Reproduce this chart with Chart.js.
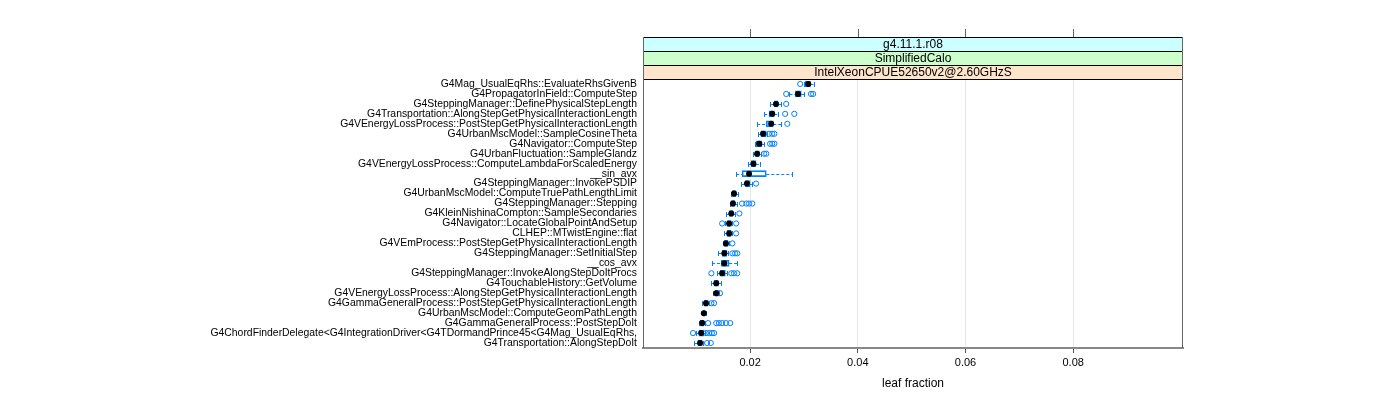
<!DOCTYPE html>
<html>
<head>
<meta charset="utf-8">
<script src="https://cdn.jsdelivr.net/npm/chart.js@4/dist/chart.umd.min.js"></script>
<style>
  html, body { margin: 0; padding: 0; background: #ffffff; }
  #wrap { width: 1400px; height: 400px; }
</style>
</head>
<body>
<div id="wrap"><canvas id="plot" width="1400" height="400"></canvas></div>
<script>
//* Input data //*

var categories = [
  'G4Mag_UsualEqRhs::EvaluateRhsGivenB',
  'G4PropagatorInField::ComputeStep',
  'G4SteppingManager::DefinePhysicalStepLength',
  'G4Transportation::AlongStepGetPhysicalInteractionLength',
  'G4VEnergyLossProcess::PostStepGetPhysicalInteractionLength',
  'G4UrbanMscModel::SampleCosineTheta',
  'G4Navigator::ComputeStep',
  'G4UrbanFluctuation::SampleGlandz',
  'G4VEnergyLossProcess::ComputeLambdaForScaledEnergy',
  '__sin_avx',
  'G4SteppingManager::InvokePSDIP',
  'G4UrbanMscModel::ComputeTruePathLengthLimit',
  'G4SteppingManager::Stepping',
  'G4KleinNishinaCompton::SampleSecondaries',
  'G4Navigator::LocateGlobalPointAndSetup',
  'CLHEP::MTwistEngine::flat',
  'G4VEmProcess::PostStepGetPhysicalInteractionLength',
  'G4SteppingManager::SetInitialStep',
  '__cos_avx',
  'G4SteppingManager::InvokeAlongStepDoItProcs',
  'G4TouchableHistory::GetVolume',
  'G4VEnergyLossProcess::AlongStepGetPhysicalInteractionLength',
  'G4GammaGeneralProcess::PostStepGetPhysicalInteractionLength',
  'G4UrbanMscModel::ComputeGeomPathLength',
  'G4GammaGeneralProcess::PostStepDoIt',
  'G4ChordFinderDelegate<G4IntegrationDriver<G4TDormandPrince45<G4Mag_UsualEqRhs,',
  'G4Transportation::AlongStepDoIt'
];

// medians (black dots)
var medians = [0.0308, 0.0289, 0.0248, 0.0241, 0.0239, 0.0224, 0.0217, 0.0213, 0.0206, 0.0198,
               0.0194, 0.0170, 0.0168, 0.0165, 0.0161, 0.0161, 0.0155, 0.0152, 0.0152, 0.0148,
               0.0137, 0.0137, 0.0118, 0.0114, 0.0111, 0.0109, 0.0107];
// box edges
var lowerQuartile = [0.0302, 0.0284, 0.0245, 0.0235, 0.0230, 0.0220, 0.0211, 0.0210, 0.0202, 0.0185,
                     0.0191, 0.0167, 0.0165, 0.0161, 0.0157, 0.0157, 0.0152, 0.0148, 0.0146, 0.0144,
                     0.0133, 0.0135, 0.0115, 0.0113, 0.0107, 0.0105, 0.0103];
var upperQuartile = [0.0312, 0.0295, 0.0252, 0.0245, 0.0243, 0.0230, 0.0222, 0.0217, 0.0211, 0.0230,
                     0.0200, 0.0174, 0.0172, 0.0168, 0.0165, 0.0165, 0.0159, 0.0157, 0.0161, 0.0154,
                     0.0141, 0.0141, 0.0122, 0.0116, 0.0114, 0.0114, 0.0111];
// whisker ends
var whiskerLow = [0.0300, 0.0273, 0.0237, 0.0226, 0.0213, 0.0215, 0.0209, 0.0206, 0.0196, 0.0174,
                  0.0183, 0.0165, 0.0163, 0.0155, 0.0153, 0.0152, 0.0150, 0.0141, 0.0129, 0.0139,
                  0.0128, 0.0131, 0.0111, 0.0111, 0.0105, 0.0100, 0.0096];
var whiskerHigh = [0.0319, 0.0300, 0.0258, 0.0252, 0.0258, 0.0232, 0.0226, 0.0220, 0.0219, 0.0278,
                   0.0204, 0.0178, 0.0176, 0.0172, 0.0167, 0.0167, 0.0161, 0.0159, 0.0176, 0.0157,
                   0.0146, 0.0142, 0.0124, 0.0118, 0.0116, 0.0116, 0.0113];
// outliers (open blue circles), one list per row
var outliers = [
  [0.0293],
  [0.0267, 0.0313, 0.0317],
  [0.0267],
  [0.0265, 0.0282],
  [0.0269],
  [0.0235, 0.0241, 0.0245],
  [0.0237, 0.0241, 0.0245],
  [0.0226, 0.0230],
  [],
  [],
  [0.0211],
  [],
  [0.0185, 0.0193, 0.0198, 0.0204],
  [0.0180],
  [0.0148, 0.0174],
  [0.0174],
  [0.0167],
  [0.0167, 0.0172, 0.0176],
  [],
  [0.0128, 0.0165, 0.0170, 0.0176],
  [],
  [0.0144],
  [0.0128, 0.0133],
  [],
  [0.0122, 0.0137, 0.0142, 0.0148, 0.0155, 0.0163],
  [0.0094, 0.0118, 0.0124, 0.0129, 0.0133],
  [0.0120, 0.0127]
];

var xTicks = [0.02, 0.04, 0.06, 0.08];
var stripLabels = ['g4.11.1.r08', 'SimplifiedCalo', 'IntelXeonCPUE52650v2@2.60GHzS'];
var stripColours = ['#ccffff', '#ccffcc', '#ffe5cc'];
var xTitle = 'leaf fraction';

var boxBlue = '#0080ff';
var fontFamily = "'Liberation Sans', Arial, Helvetica, sans-serif";

//* Build chart datasets //*

var medianPoints = medians.map(function(v, i){ return {x: v, y: categories[i]}; });
var outlierPoints = [];
var i, j;
for (i = 0; i < outliers.length; i++) {
    for (j = 0; j < outliers[i].length; j++) {
        outlierPoints.push({x: outliers[i][j], y: categories[i]});
    }
}
var boxRanges = lowerQuartile.map(function(v, i){ return [v, upperQuartile[i]]; });

//* Whiskers drawn with the chart scales //*

var whiskerPlugin = {
    id: 'whiskers',
    beforeDatasetsDraw: function(chart) {
        var ctx = chart.ctx;
        var xs = chart.scales.x, ys = chart.scales.y;
        ctx.save();
        ctx.strokeStyle = boxBlue;
        ctx.lineWidth = 1;
        for (var k = 0; k < categories.length; k++) {
            var py = Math.round(ys.getPixelForValue(k)) + 0.5;
            var xl = xs.getPixelForValue(whiskerLow[k]);
            var xq1 = xs.getPixelForValue(lowerQuartile[k]);
            var xq3 = xs.getPixelForValue(upperQuartile[k]);
            var xh = xs.getPixelForValue(whiskerHigh[k]);
            ctx.setLineDash([3, 2]);
            ctx.beginPath();
            ctx.moveTo(xl, py); ctx.lineTo(xq1, py);
            ctx.moveTo(xq3, py); ctx.lineTo(xh, py);
            ctx.stroke();
            ctx.setLineDash([]);
            ctx.beginPath();
            ctx.moveTo(Math.round(xl) + 0.5, py - 2.5); ctx.lineTo(Math.round(xl) + 0.5, py + 2.5);
            ctx.moveTo(Math.round(xh) + 0.5, py - 2.5); ctx.lineTo(Math.round(xh) + 0.5, py + 2.5);
            ctx.stroke();
        }
        ctx.restore();
    }
};

//* Strips, top ticks and panel frame //*

var stripPlugin = {
    id: 'strips',
    afterDraw: function(chart) {
        var ctx = chart.ctx;
        var area = chart.chartArea;
        var xs = chart.scales.x;
        var stripH = 14;
        var top = area.top - stripH * stripLabels.length;
        ctx.save();
        for (var k = 0; k < stripLabels.length; k++) {
            var sy = top + k * stripH;
            ctx.fillStyle = stripColours[k];
            ctx.fillRect(area.left, sy, area.right - area.left, stripH);
            ctx.strokeStyle = '#000000';
            ctx.lineWidth = 1;
            ctx.strokeRect(area.left + 0.5, sy + 0.5, area.right - area.left - 1, stripH);
            ctx.fillStyle = '#000000';
            ctx.font = '12px ' + fontFamily;
            ctx.textAlign = 'center';
            ctx.textBaseline = 'middle';
            ctx.fillText(stripLabels[k], (area.left + area.right) / 2, sy + stripH / 2 + 1);
        }
        // panel frame
        ctx.strokeStyle = '#666666';
        ctx.beginPath();
        ctx.moveTo(Math.round(area.left) + 0.5, top);
        ctx.lineTo(Math.round(area.left) + 0.5, area.bottom);
        ctx.moveTo(Math.round(area.right) - 0.5, top);
        ctx.lineTo(Math.round(area.right) - 0.5, area.bottom);
        ctx.stroke();
        // ticks on the top edge
        ctx.beginPath();
        xTicks.forEach(function(t){
            var px = Math.round(xs.getPixelForValue(t)) + 0.5;
            ctx.moveTo(px, top);
            ctx.lineTo(px, top - 8);
        });
        ctx.stroke();
        ctx.restore();
    }
};

//* Show the chart //*

function makeChart(){
    var plot = document.getElementById('plot').getContext('2d');
    var chart = new Chart(plot, {
        type: 'bar',
        data: {
            labels: categories,
            datasets: [{
                type: 'scatter',
                label: 'median',
                data: medianPoints,
                pointRadius: 3,
                pointBackgroundColor: '#000000',
                pointBorderColor: '#000000',
                pointBorderWidth: 0
            }, {
                type: 'scatter',
                label: 'outliers',
                data: outlierPoints,
                pointRadius: 2.6,
                pointBackgroundColor: 'rgba(0,0,0,0)',
                pointBorderColor: boxBlue,
                pointBorderWidth: 1
            }, {
                type: 'bar',
                label: 'box',
                data: boxRanges,
                backgroundColor: 'rgba(255,255,255,0)',
                borderColor: boxBlue,
                borderWidth: 1,
                borderSkipped: false,
                barThickness: 6
            }]
        },
        options: {
            indexAxis: 'y',
            responsive: false,
            animation: false,
            layout: { padding: { top: 79, right: 217, bottom: 0, left: 0 } },
            plugins: {
                legend: { display: false },
                tooltip: { enabled: false }
            },
            scales: {
                x: {
                    type: 'linear',
                    position: 'bottom',
                    min: 0.0001,
                    max: 0.1004,
                    afterBuildTicks: function(scale){
                        scale.ticks = xTicks.map(function(v){ return {value: v}; });
                    },
                    afterFit: function(scale){ scale.height = 52; },
                    ticks: {
                        color: '#000000',
                        font: { family: fontFamily, size: 11 },
                        padding: 3,
                        maxRotation: 0,
                        callback: function(v){ return v.toFixed(2); }
                    },
                    grid: {
                        color: '#e6e6e6',
                        tickColor: '#555555',
                        tickLength: 5,
                        drawOnChartArea: true
                    },
                    border: { color: '#888888', width: 2 },
                    title: {
                        display: true,
                        text: xTitle,
                        color: '#000000',
                        font: { family: fontFamily, size: 12 },
                        padding: { top: 2, bottom: 9 }
                    }
                },
                y: {
                    type: 'category',
                    offset: true,
                    afterFit: function(scale){ scale.width = 643; },
                    ticks: {
                        autoSkip: false,
                        color: '#000000',
                        font: { family: fontFamily, size: 10.4 },
                        padding: 6
                    },
                    grid: { display: false, drawTicks: false },
                    border: { display: false }
                }
            }
        },
        plugins: [whiskerPlugin, stripPlugin]
    });
    return chart;
}

var leafChart = makeChart();
</script>
</body>
</html>
